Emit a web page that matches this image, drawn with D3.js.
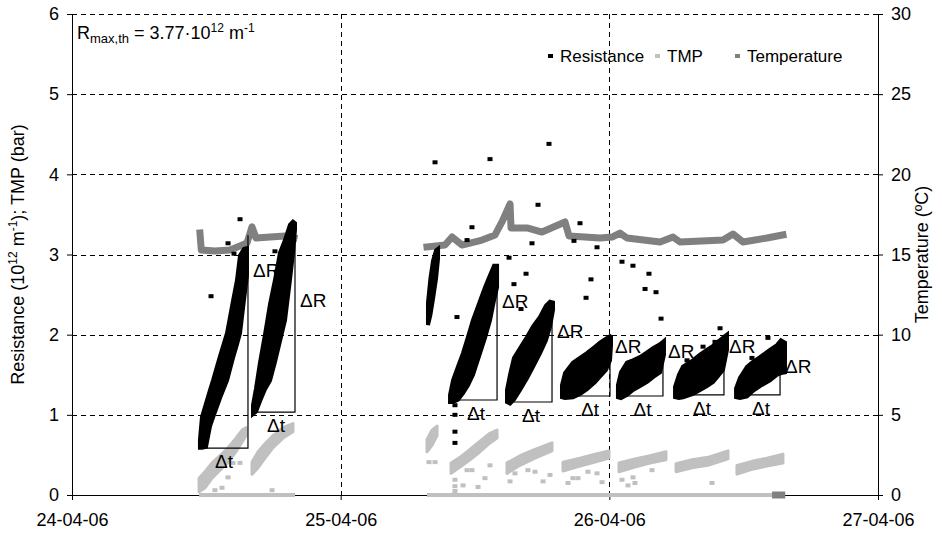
<!DOCTYPE html>
<html><head><meta charset="utf-8">
<script src="https://cdn.jsdelivr.net/npm/d3@7"></script>
<style>
body{margin:0;background:#fff}
text{font-family:"Liberation Sans",Arial,Helvetica,sans-serif;fill:#000}
</style>
</head><body>
<svg id="c" width="942" height="537"></svg>
<script>
// ---------- DATA (time in hours since 24-04-06 00:00) ----------
const dayTicks = ["2006-04-24","2006-04-25","2006-04-26","2006-04-27"];
const xTickLabels = ["24-04-06","25-04-06","26-04-06","27-04-06"];
const yLeftTicks = [0,1,2,3,4,5,6];
const yRightTicks = [0,5,10,15,20,25,30];
const seriesNames = ["Resistance","TMP","Temperature"];

// Resistance (10^12 m^-1) cloud per filtration cycle: [hour, R low, R high]
const resCycleA = [[11.43,0.59,0.69],[11.61,0.59,0.97],[11.97,0.60,1.14],[12.33,0.86,1.31],[12.60,0.97,1.43],[13.22,1.21,1.73],[13.85,1.43,2.02],[14.38,1.71,2.42],[14.74,1.88,2.68],[15.01,2.02,2.99],[15.36,2.43,3.07],[15.63,2.74,3.08]];
const resCycleB = [[16.17,1.01,1.12],[16.44,1.04,1.33],[16.79,1.17,1.65],[17.24,1.32,2.00],[17.69,1.43,2.38],[18.13,1.66,2.68],[18.58,1.92,3.02],[19.03,2.18,3.18],[19.47,2.68,3.37],[19.74,3.02,3.41],[19.92,3.31,3.39]];
const resCycleC0 = [[31.80,2.12,2.40],[32.02,2.25,2.70],[32.25,2.45,2.92],[32.52,2.70,3.05],[32.70,2.95,3.07]];
const resCycleC = [[33.77,1.16,1.25],[34.04,1.16,1.43],[34.48,1.19,1.60],[34.93,1.27,1.77],[35.37,1.37,1.97],[35.82,1.50,2.18],[36.45,1.77,2.42],[36.89,1.96,2.59],[37.34,2.18,2.74],[37.70,2.43,2.86],[37.97,2.59,2.86]];
const resCycleD = [[38.86,1.16,1.31],[39.13,1.14,1.50],[39.48,1.19,1.71],[40.02,1.31,1.83],[40.65,1.46,1.97],[41.18,1.60,2.10],[41.81,1.77,2.22],[42.34,1.93,2.36],[42.70,2.10,2.41],[42.97,2.31,2.40]];
const resCycleE = [[43.77,1.22,1.37],[44.04,1.21,1.52],[44.75,1.22,1.65],[45.38,1.26,1.71],[46.00,1.32,1.77],[46.72,1.41,1.85],[47.17,1.48,1.90],[47.70,1.56,1.95],[48.06,1.68,1.98],[48.15,1.87,1.97]];
const resCycleF = [[48.77,1.22,1.37],[49.04,1.21,1.53],[49.58,1.25,1.65],[50.11,1.31,1.68],[50.74,1.36,1.72],[51.37,1.41,1.78],[51.90,1.47,1.83],[52.53,1.53,1.88],[52.88,1.75,1.92]];
const resCycleG = [[53.87,1.22,1.35],[54.22,1.21,1.50],[54.58,1.22,1.60],[55.47,1.26,1.68],[56.10,1.31,1.75],[56.72,1.36,1.81],[57.26,1.41,1.86],[57.62,1.47,1.90],[58.15,1.56,1.96],[58.51,1.81,2.00]];
const resCycleH = [[59.32,1.22,1.33],[59.67,1.21,1.46],[60.30,1.23,1.60],[60.83,1.30,1.66],[61.46,1.36,1.72],[62.35,1.43,1.81],[62.98,1.50,1.87],[63.33,1.52,1.93],[63.69,1.53,1.90]];
// isolated resistance readings: [hour, R]
const resOutliers = [[15.01,3.44],[13.94,3.14],[14.47,3.01],[12.42,2.48],[18.13,3.04],
 [32.43,4.15],[37.34,4.19],[42.61,4.38],[41.63,3.62],[35.73,3.34],[35.29,3.18],[45.38,3.39],
 [41.09,3.14],[44.84,3.17],[46.90,3.09],[39.04,2.96],[40.56,2.76],[39.48,2.63],[46.36,2.69],
 [45.92,2.46],[40.11,2.32],[34.39,2.22],[49.13,2.91],[50.11,2.86],[51.54,2.76],[51.19,2.57],
 [52.17,2.53],[52.62,2.20],[57.89,2.08],[57.44,1.91],[56.37,1.85],[54.94,1.68],[62.17,1.96],
 [60.74,1.71],[34.21,1.12],[34.21,1.00],[34.21,0.79],[34.21,0.65]];

// TMP (bar) cloud per cycle: [hour, low, high]
const tmpCycleA = [[11.35,0.04,0.21],[11.88,0.09,0.29],[12.51,0.21,0.40],[13.22,0.31,0.49],[13.94,0.41,0.59],[14.65,0.54,0.71],[15.19,0.66,0.81],[15.54,0.74,0.84]];
const tmpCycleB = [[16.08,0.26,0.41],[16.62,0.34,0.54],[17.24,0.46,0.64],[17.96,0.59,0.74],[18.85,0.71,0.84],[19.74,0.79,0.89]];
const tmpCycleC0 = [[31.71,0.54,0.69],[32.16,0.62,0.81],[32.61,0.74,0.86]];
const tmpCycleC = [[33.86,0.27,0.40],[34.66,0.35,0.47],[35.55,0.44,0.57],[36.45,0.54,0.67],[37.34,0.65,0.77],[37.97,0.71,0.81]];
const tmpCycleD = [[38.86,0.27,0.40],[40.02,0.37,0.49],[41.36,0.46,0.57],[42.88,0.55,0.65]];
const tmpCycleE = [[43.86,0.30,0.41],[45.38,0.36,0.46],[46.72,0.41,0.51],[47.97,0.46,0.55]];
const tmpCycleF = [[48.86,0.29,0.40],[50.29,0.35,0.45],[51.63,0.40,0.49],[53.06,0.44,0.54]];
const tmpCycleG = [[53.96,0.29,0.39],[55.39,0.34,0.44],[56.81,0.37,0.47],[58.60,0.45,0.55]];
const tmpCycleH = [[59.40,0.26,0.37],[60.74,0.32,0.42],[62.08,0.36,0.46],[63.51,0.40,0.51]];
const tmpOutliers = [[12.77,0.06],[13.40,0.09],[13.94,0.22],[14.38,0.40],[15.01,0.40],[17.87,0.06],
 [31.89,0.41],[32.43,0.41],[34.21,0.19],[34.21,0.11],[34.21,0.05],[35.29,0.31],[35.73,0.31],
 [37.34,0.37],[36.89,0.21],[34.93,0.12],[36.27,0.10],[39.13,0.17],[39.57,0.27],[40.73,0.31],
 [41.36,0.29],[42.08,0.17],[42.70,0.25],[44.31,0.15],[45.20,0.21],[46.09,0.29],[46.90,0.27],
 [47.35,0.16],[44.75,0.21],[49.13,0.19],[50.11,0.22],[50.29,0.15],[49.67,0.12],[51.81,0.31],[57.17,0.15]];
// TMP readings at zero (pump stopped): [start hour, end hour]
const tmpZeroRuns = [[11.35,19.92],[31.71,62.98]];

// Temperature (ºC): [hour, T]
const tempRun1 = [[11.43,16.34],[11.55,15.28],[12.77,15.22],[14.11,15.28],[15.01,15.53],[15.63,15.72],[16.08,16.72],[16.44,16.03],[17.69,16.09],[19.03,16.15],[19.83,16.03]];
const tempRun2 = [[31.71,15.47],[33.32,15.59],[33.95,16.09],[34.84,15.59],[36.63,15.90],[37.79,16.22],[38.41,17.03],[39.13,18.15],[39.22,16.65],[40.73,16.65],[41.99,16.40],[44.04,17.03],[44.40,16.15],[47.17,16.03],[48.24,16.09],[48.95,16.34],[49.58,16.03],[52.53,15.78],[53.69,16.09],[54.31,15.78],[58.15,15.90],[59.05,16.28],[59.94,15.78],[62.08,16.03],[63.51,16.22]];
const tempZero = [[62.85,0],[63.40,0]];

// ΔR / Δt construction per cycle: [start hour, end hour, R start, R end]
const cycleBoxes = [[11.43,15.72,0.585,3.24],[16.53,19.92,1.035,3.39],[34.21,37.97,1.185,2.83],[39.13,42.88,1.16,2.39],[44.49,48.06,1.235,1.97],[49.13,52.79,1.235,1.91],[54.31,58.24,1.25,2.00],[59.85,63.25,1.25,1.87]];
const deltaRLabelAt = [2.72,2.34,2.33,1.96,1.77,1.71,1.77,1.52];

// ---------- CHART ----------
const W=942,H=537, L=72, R=878, T=14, B=495;
const svg = d3.select("#c");
const parse = d3.timeParse("%Y-%m-%d");
const days = dayTicks.map(parse);
const t0 = days[0].getTime();
const toDate = h => new Date(t0 + h*3600000);
const x = d3.scaleTime().domain([days[0], days[3]]).range([L,R]);
const y = d3.scaleLinear().domain([0,6]).range([B,T]);
const yT = d3.scaleLinear().domain([0,30]).range([B,T]);
const FS = 18;
const COL = {res:"#000", tmp:"#c0c0c0", temp:"#808080"};

// grid
const grid = svg.append("g").attr("stroke","#000").attr("stroke-width",1).attr("stroke-dasharray","5,4");
grid.selectAll("line.h").data(yLeftTicks.filter(v=>v>0)).join("line")
  .attr("x1",L).attr("x2",R).attr("y1",d=>Math.round(y(d))+0.5).attr("y2",d=>Math.round(y(d))+0.5);
grid.selectAll("line.v").data(days.slice(1,3)).join("line")
  .attr("y1",T).attr("y2",B).attr("x1",d=>Math.round(x(d))+0.5).attr("x2",d=>Math.round(x(d))+0.5);

// axes
const ax = svg.append("g");
const gl = ax.append("g").attr("transform",`translate(${L},0)`)
  .call(d3.axisLeft(y).tickValues(yLeftTicks).tickFormat(d3.format("d")).tickSizeInner(5).tickSizeOuter(0).tickPadding(8));
const gr = ax.append("g").attr("transform",`translate(${R},0)`)
  .call(d3.axisRight(yT).tickValues(yRightTicks).tickFormat(d3.format("d")).tickSizeInner(5).tickSizeOuter(0).tickPadding(8));
const gb = ax.append("g").attr("transform",`translate(0,${B})`)
  .call(d3.axisBottom(x).tickValues(days).tickFormat((d,i)=>xTickLabels[i]).tickSizeInner(5).tickSizeOuter(0).tickPadding(13));
[gl,gr,gb].forEach(g=>{g.attr("font-family",null).attr("font-size",null);
  g.selectAll("text").attr("font-size",FS).attr("fill","#000");
  g.selectAll("line,path").attr("stroke","#000");});
gb.select(".domain").remove();
svg.append("line").attr("x1",L).attr("x2",R).attr("y1",B+0.5).attr("y2",B+0.5).attr("stroke","#000");

// axis titles
svg.append("text").attr("transform",`translate(24,${(T+B)/2}) rotate(-90)`).attr("text-anchor","middle").attr("font-size",FS)
  .call(t=>{t.append("tspan").text("Resistance (10");
    t.append("tspan").attr("dy",-7).attr("font-size",12).text("12");
    t.append("tspan").attr("dy",7).text(" m");
    t.append("tspan").attr("dy",-7).attr("font-size",12).text("-1");
    t.append("tspan").attr("dy",7).text("); TMP (bar)");});
svg.append("text").attr("transform",`translate(928,${(T+B)/2}) rotate(-90)`).attr("text-anchor","middle").attr("font-size",FS)
  .text("Temperature (ºC)");

const X = d => x(toDate(d[0]));
const band = d3.area().x(X).y0(d=>y(d[1])).y1(d=>y(d[2]));

// TMP
const gT = svg.append("g");
gT.selectAll("line.z").data(tmpZeroRuns).join("line")
  .attr("x1",d=>x(toDate(d[0]))).attr("x2",d=>x(toDate(d[1]))).attr("y1",y(0)).attr("y2",y(0))
  .attr("stroke",COL.tmp).attr("stroke-width",4);
gT.selectAll("path").data([tmpCycleA,tmpCycleB,tmpCycleC0,tmpCycleC,tmpCycleD,tmpCycleE,tmpCycleF,tmpCycleG,tmpCycleH]).join("path")
  .attr("d",band).attr("fill",COL.tmp).attr("stroke",COL.tmp).attr("stroke-width",3).attr("stroke-linejoin","round");
gT.selectAll("rect").data(tmpOutliers).join("rect")
  .attr("x",d=>X(d)-2.5).attr("y",d=>y(d[1])-2).attr("width",5).attr("height",4).attr("fill",COL.tmp);

// Temperature
const tline = d3.line().x(X).y(d=>yT(d[1]));
svg.append("g").selectAll("path").data([tempRun1,tempRun2,tempZero]).join("path")
  .attr("d",tline).attr("fill","none").attr("stroke",COL.temp).attr("stroke-width",7)
  .attr("stroke-linejoin","round").attr("stroke-linecap","square");

// Resistance
const gR = svg.append("g");
gR.selectAll("path").data([resCycleA,resCycleB,resCycleC0,resCycleC,resCycleD,resCycleE,resCycleF,resCycleG,resCycleH]).join("path")
  .attr("d",band).attr("fill",COL.res).attr("stroke",COL.res).attr("stroke-width",4).attr("stroke-linejoin","miter");
gR.selectAll("rect").data(resOutliers).join("rect")
  .attr("x",d=>X(d)-2.5).attr("y",d=>y(d[1])-2).attr("width",5).attr("height",4).attr("fill",COL.res);

// ΔR / Δt constructions
const gB = svg.append("g");
gB.selectAll("path").data(cycleBoxes).join("path")
  .attr("d",d=>`M${x(toDate(d[0]))},${y(d[2])}H${x(toDate(d[1]))}V${y(d[3])}`)
  .attr("fill","none").attr("stroke","#000").attr("stroke-width",1.2);
gB.selectAll("text.dt").data(cycleBoxes).join("text").attr("class","dt")
  .attr("x",d=>(x(toDate(d[0]))+x(toDate(d[1])))/2).attr("y",d=>y(d[2])+20)
  .attr("text-anchor","middle").attr("font-size",19).text("Δt");
gB.selectAll("text.dr").data(cycleBoxes).join("text").attr("class","dr")
  .attr("x",d=>x(toDate(d[1]))+5).attr("y",(d,i)=>y(deltaRLabelAt[i]))
  .attr("font-size",19).text("ΔR");

// Rmax annotation
svg.append("text").attr("x",77).attr("y",39).attr("font-size",FS)
  .call(t=>{t.append("tspan").text("R");
    t.append("tspan").attr("dy",4).attr("font-size",13).text("max,th");
    t.append("tspan").attr("dy",-4).text(" = 3.77·10");
    t.append("tspan").attr("dy",-7).attr("font-size",12).text("12");
    t.append("tspan").attr("dy",7).text(" m");
    t.append("tspan").attr("dy",-7).attr("font-size",12).text("-1");});

// legend
const lg = svg.append("g").attr("font-size",17);
const legendCols = [COL.res, COL.tmp, COL.temp];
const legendX = [560, 667, 747];
seriesNames.forEach((n,i)=>{
  lg.append("rect").attr("x",legendX[i]-12).attr("y",54).attr("width",5).attr("height",4).attr("fill",legendCols[i]);
  lg.append("text").attr("x",legendX[i]).attr("y",62).text(n);
});
</script>
</body></html>
